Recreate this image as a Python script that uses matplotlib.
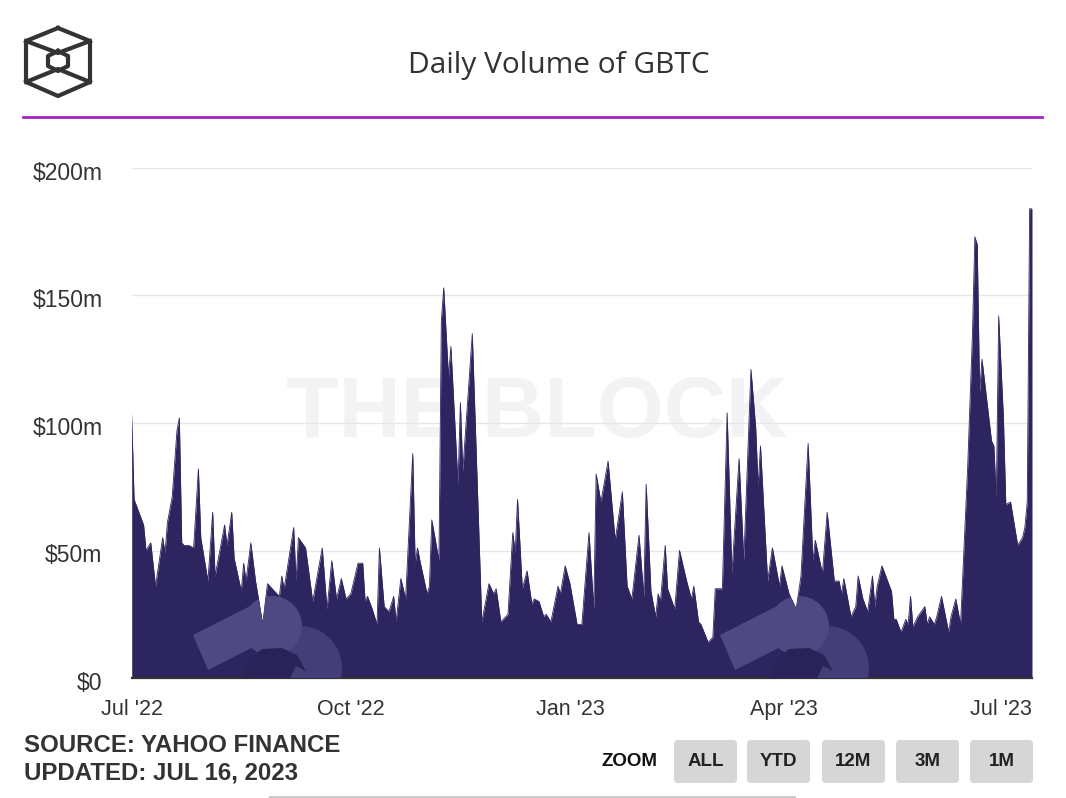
import matplotlib
matplotlib.use("Agg")
import matplotlib.pyplot as plt
import matplotlib.patches as mpatches
import matplotlib.transforms as mtrans
import pandas as pd

# GBTC daily volume, in $m; days counted from the first point
start = "2022-07-01"
day = [0, 1, 5, 6, 8, 10, 13, 14, 15, 17, 19, 20, 21, 22, 24, 26, 28, 29, 32, 34,
       35, 39, 40, 42, 43, 46, 47, 48, 50, 52, 55, 57, 60, 62,
       63, 64, 68, 69, 70, 73, 76, 80, 82, 84, 86, 88, 90, 92, 95, 97, 98, 99, 101,
       103, 104, 106, 108, 110, 111, 113, 115, 118, 119, 120, 121, 124, 125,
       126, 129, 130, 131, 133, 134, 137, 138, 139, 141, 143, 147, 150, 152, 153,
       155, 158, 160, 161, 162, 164, 166, 168, 169, 171, 173, 174, 176, 179, 180, 182,
       184, 187, 189, 192, 194, 195, 197, 200, 203, 206, 208, 210, 213, 215, 216,
       218, 220, 221, 222, 224, 225, 228, 230, 233, 235, 236, 238, 239, 242, 244,
       245, 248, 250,
       252, 255, 257, 260, 262, 263, 264, 267, 269, 271, 272, 273, 276, 279, 281,
       284, 286, 287, 290, 292, 295, 297, 298, 299, 302, 304, 305,
       307, 309, 311, 312, 313, 315, 319, 320, 321, 323, 325, 326, 327, 328, 330,
       333, 334, 335, 337, 338, 340, 343, 344, 346, 348, 351, 353, 354, 355, 356,
       357, 359, 361, 362, 363, 364, 366, 367, 369, 372, 374, 375, 376, 377, 378]
vol = [103, 70, 60, 50, 53, 36, 55, 49, 61, 71, 97, 102, 53, 52, 52, 51, 82, 55, 38, 65,
       40, 60, 52, 65, 47, 34, 45, 38, 53, 38, 21, 37, 34, 32,
       40, 35, 59, 38, 55, 51, 30, 51, 27, 46, 31, 39, 31, 33, 45, 45, 30, 32, 27,
       21, 51, 28, 26, 32, 22, 39, 31, 88, 45, 51, 46, 33, 36,
       62, 46, 140, 153, 118, 130, 76, 108, 81, 108, 135, 22, 37, 33, 35,
       22, 25, 57, 49, 70, 35, 42, 29, 31, 30, 24, 25, 22, 36, 33, 44,
       37, 21, 21, 57, 27, 80, 69, 85, 54, 73, 36, 31, 56, 32, 76,
       34, 24, 33, 30, 52, 35, 27, 50, 38, 31, 36, 22, 21, 14, 16,
       35, 35, 104,
       41, 86, 46, 121, 98, 75, 91, 38, 51, 41, 36, 44, 33, 27, 40,
       92, 46, 54, 41, 65, 38, 38, 33, 39, 24, 28, 40,
       31, 26, 40, 28, 36, 44, 34, 23, 23, 18, 23, 21, 32, 20, 24,
       28, 21, 24, 21, 24, 32, 18, 24, 31, 21, 83, 135, 173, 170, 112,
       125, 109, 93, 91, 70, 142, 102, 68, 69, 52, 55, 59, 69, 184, 184]

tick_dates = ["2022-07-01", "2022-10-01", "2023-01-01", "2023-04-01", "2023-07-01"]
tick_labels = ["Jul '22", "Oct '22", "Jan '23", "Apr '23", "Jul '23"]
y_ticks = [0, 50, 100, 150, 200]
y_labels = ["$0", "$50m", "$100m", "$150m", "$200m"]
buttons = ["ALL", "YTD", "12M", "3M", "1M"]

W, H = 1066, 798
fill_col = "#2d2560"
txt_col = "#333333"
sans = ["Liberation Sans", "DejaVu Sans"]

dates = pd.Timestamp(start) + pd.to_timedelta(day, unit="D")

fig = plt.figure(figsize=(W / 100, H / 100), dpi=100)

# overlay in pixel coordinates for header / footer decorations
ov = fig.add_axes([0, 0, 1, 1], zorder=0)
ov.set_xlim(0, W)
ov.set_ylim(H, 0)
ov.axis("off")

ax = fig.add_axes([131.7 / W, (H - 678) / H, (1032 - 131.7) / W, (678 - 168) / H], zorder=1)
ax.set_facecolor("none")

# faint watermark text behind the area
ax.text(0.45, 0.515, "THE BLOCK", transform=ax.transAxes, ha="center", va="center",
        fontsize=62, fontweight="bold", color="#f3f3f5", family=sans, zorder=0)

area = ax.fill_between(dates, vol, 0, color=fill_col, lw=0, zorder=2)
ax.plot(dates, vol, color=fill_col, lw=0.6, zorder=2)

ax.set_xlim(pd.Timestamp(start), pd.Timestamp(start) + pd.Timedelta(days=378))
ax.set_ylim(0, 200)
ax.set_yticks(y_ticks)
ax.set_yticklabels(y_labels)
ax.set_xticks(pd.to_datetime(tick_dates))
ax.set_xticklabels(tick_labels)
ax.grid(axis="y", color="#e6e6e6", lw=1, zorder=0)
ax.set_axisbelow(True)
for s in ["top", "right", "left"]:
    ax.spines[s].set_visible(False)
ax.spines["bottom"].set_color("#333333")
ax.spines["bottom"].set_linewidth(1.6)
ax.tick_params(axis="y", length=0, pad=21, labelsize=16.5, labelcolor=txt_col)
ax.tick_params(axis="x", length=0, pad=15, labelsize=15.5, labelcolor=txt_col)
for lab in ax.get_xticklabels() + ax.get_yticklabels():
    lab.set_family(sans)
shift = mtrans.ScaledTranslation(0, -3 / 100, fig.dpi_scale_trans)
for lab in ax.get_yticklabels():
    lab.set_transform(lab.get_transform() + shift)

# logo watermarks on the area, clipped to the filled shape
ov2 = fig.add_axes([0, 0, 1, 1], zorder=3)
ov2.set_xlim(0, W)
ov2.set_ylim(H, 0)
ov2.axis("off")
clip_path = area.get_paths()[0]
for dx in [0, 527]:
    shapes = [
        mpatches.Circle((300 + dx, 668), 42, fc="#433e77", lw=0),
        mpatches.Polygon([(193 + dx, 635), (270 + dx, 596), (285 + dx, 631), (208 + dx, 670)],
                         fc="#4e4982", lw=0),
        mpatches.Circle((272 + dx, 626), 30, fc="#4e4982", lw=0),
        mpatches.Polygon([(243 + dx, 678), (248 + dx, 660), (262 + dx, 649), (282 + dx, 648),
                          (297 + dx, 655), (306 + dx, 671), (296 + dx, 666), (290 + dx, 678)],
                         fc="#2a2359", lw=0),
    ]
    for p in shapes:
        ov2.add_patch(p)
        p.set_clip_path(clip_path, ax.transData)

# logo
lw_logo = 3
outer = [(58, 28), (90, 41), (90, 82), (58, 96), (26, 82), (26, 41), (58, 28)]
ov.plot([p[0] for p in outer], [p[1] for p in outer], color=txt_col, lw=lw_logo)
inner = [(58, 51), (68, 56), (68, 66), (58, 71), (48, 66), (48, 56), (58, 51)]
ov.plot([p[0] for p in inner], [p[1] for p in inner], color=txt_col, lw=lw_logo)
ov.plot([26, 58, 90], [41, 53, 41], color=txt_col, lw=lw_logo)
ov.plot([26, 58, 90], [82, 69, 82], color=txt_col, lw=lw_logo)

ov.text(559, 65, "Daily Volume of GBTC", ha="center", va="center", fontsize=21.5,
        color=txt_col, family=["Open Sans", "DejaVu Sans"])
ov.plot([23, 1042], [117, 117], color="#a324c4", lw=2)

# footer
ov.text(24, 745, "SOURCE: YAHOO FINANCE", ha="left", va="center", fontsize=17.3,
        fontweight="bold", color=txt_col, family=sans)
ov.text(24, 773, "UPDATED: JUL 16, 2023", ha="left", va="center", fontsize=17.3,
        fontweight="bold", color=txt_col, family=sans)
ov.text(630, 761, "ZOOM", ha="center", va="center", fontsize=13.5, fontweight="bold",
        color="#111111", family=sans)
bx = [674, 747, 822, 896, 970]
for x0, lab in zip(bx, buttons):
    ov.add_patch(mpatches.FancyBboxPatch((x0, 740), 63, 43,
                                         boxstyle="round,pad=0,rounding_size=4",
                                         fc="#d6d6d6", ec="none"))
    ov.text(x0 + 31.5, 762, lab, ha="center", va="center", fontsize=13.5,
            fontweight="bold", color="#222222", family=sans)
ov.plot([270, 795], [797, 797], color="#cccccc", lw=1.5)

fig.savefig("out.png", dpi=100)
